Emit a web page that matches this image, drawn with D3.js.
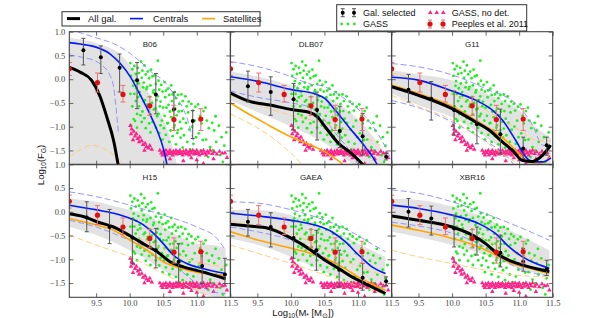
<!DOCTYPE html>
<html><head><meta charset="utf-8">
<script src="https://cdn.jsdelivr.net/npm/d3@7"></script>
<style>body{margin:0;background:#fff} svg{display:block}</style>
</head><body><svg id="c" width="598" height="318"></svg>
<script>
// ---------------- DATA ----------------
const modelNames = ["B06","DLB07","G11","H15","GAEA","XBR16"];
const xTicks = [9.5,10.0,10.5,11.0,11.5];
const yTicks = [1.0,0.5,0.0,-0.5,-1.0,-1.5];

// B06
const b06All = [[9.1,0.25],[9.26,0.15],[9.43,-0.02],[9.56,-0.37],[9.66,-0.8],[9.76,-1.29],[9.84,-1.9]];
const b06Cen = [[9.1,0.77],[9.26,0.74],[9.51,0.67],[9.71,0.53],[9.86,0.33],[10.01,0.05],[10.16,-0.34],[10.31,-0.76],[10.41,-1.08],[10.51,-1.5],[10.57,-1.9]];
const b06Sat = [];
const b06CenHi = [[9.1,1.05],[9.3,0.96],[9.55,0.85],[9.76,0.75],[10.0,0.55],[10.16,0.37],[10.35,0.12],[10.5,-0.02],[10.65,-0.3],[10.85,-0.8],[10.95,-1.3]];
const b06CenLo = [[9.1,0.51],[9.3,0.46],[9.46,0.4],[9.6,0.28],[9.7,0.1],[9.76,-0.16],[9.8,-0.65],[9.83,-1.1]];
const b06SatHi = [[9.1,-1.64],[9.25,-1.5],[9.43,-1.39],[9.55,-1.42],[9.66,-1.5],[9.86,-1.71],[9.95,-1.85]];
const b06SatLo = [];
const b06Band = [[9.1,-3,0.87],[9.5,-3,0.76],[9.9,-3,0.47],[10.15,-3,0.0],[10.4,-3,-0.58],[10.6,-3,-1.22],[10.72,-3,-1.9]];
const b06Sel = [[9.31,0.61,0.86,0.30],[9.57,0.46,0.70,0.12],[9.85,0.24,0.53,-0.27],[10.11,-0.02,0.35,-0.62],[10.39,-0.32,0.12,-0.73],[10.66,-0.63,-0.27,-1.08],[10.94,-0.88,-0.66,-1.25]];

// DLB07
const dlbAll = [[9.1,-0.29],[9.37,-0.46],[9.71,-0.55],[10.01,-0.64],[10.26,-0.69],[10.39,-0.79],[10.51,-1.0],[10.71,-1.35],[10.91,-1.57],[11.06,-1.78],[11.15,-1.9]];
const dlbCen = [[9.1,0.05],[9.52,-0.05],[10.01,-0.22],[10.36,-0.31],[10.51,-0.41],[10.66,-0.65],[10.86,-1.0],[11.11,-1.43],[11.28,-1.78],[11.32,-1.9]];
const dlbSat = [[9.1,-0.5],[9.32,-0.69],[9.62,-0.93],[10.01,-1.22],[10.31,-1.39],[10.51,-1.53],[10.66,-1.67],[10.76,-1.78],[10.82,-1.9]];
const dlbCenHi = [[9.1,0.37],[9.52,0.26],[10.01,0.05],[10.26,-0.09],[10.51,-0.16],[10.76,-0.37],[11.11,-0.79],[11.41,-1.43],[11.5,-1.7]];
const dlbCenLo = [[9.1,-0.25],[9.5,-0.38],[10.0,-0.5],[10.3,-0.6],[10.5,-0.85],[10.7,-1.2],[10.9,-1.55],[11.02,-1.85]];
const dlbSatHi = [[9.1,-0.34],[9.52,-0.55],[10.01,-0.76],[10.51,-0.93],[11.11,-1.22],[11.4,-1.45]];
const dlbSatLo = [[9.1,-0.73],[9.77,-1.28],[10.01,-1.57],[10.2,-1.85]];
const dlbBand = [[9.1,-0.45,0.16],[9.52,-0.7,0.05],[10.01,-1.0,-0.13],[10.51,-1.35,-0.37],[10.8,-1.65,-0.6],[11.01,-1.9,-0.86],[11.26,-2.2,-1.28],[11.4,-2.4,-1.6]];
const dlbSel = [[9.36,-0.15,0.17,-0.48],[9.7,-0.27,0.05,-0.76],[10.04,-0.42,-0.09,-1.07],[10.39,-0.65,-0.27,-1.28],[10.73,-1.09,-0.57,-1.44],[11.07,-1.2,-0.72,-1.6],[11.42,-1.63,-1.56,-1.7]];

// G11
const g11All = [[9.1,-0.16],[9.5,-0.34],[10.0,-0.62],[10.35,-0.9],[10.55,-1.07],[10.75,-1.32],[10.9,-1.5],[11.05,-1.71],[11.2,-1.73],[11.35,-1.6],[11.47,-1.39]];
const g11Cen = [[9.1,0.04],[9.5,-0.02],[10.0,-0.25],[10.35,-0.44],[10.6,-0.65],[10.75,-0.86],[10.95,-1.29],[11.1,-1.64],[11.2,-1.74],[11.35,-1.74],[11.47,-1.66]];
const g11Sat = [[9.1,-0.12],[9.5,-0.3],[10.0,-0.57],[10.35,-0.86],[10.6,-1.08],[10.8,-1.29],[11.0,-1.57],[11.15,-1.75],[11.3,-1.77],[11.47,-1.64]];
const g11CenHi = [[9.1,0.33],[9.5,0.26],[10.0,0.09],[10.5,-0.2],[11.0,-0.58],[11.2,-0.97],[11.35,-1.39],[11.47,-1.4]];
const g11CenLo = [[9.1,-0.45],[9.5,-0.6],[10.0,-0.9],[10.5,-1.3],[10.8,-1.6],[10.95,-1.85]];
const g11SatHi = [[9.1,0.13],[9.5,-0.02],[10.0,-0.3],[10.5,-0.65],[11.0,-1.07],[11.25,-1.28],[11.47,-1.3]];
const g11SatLo = [[9.1,-0.34],[9.5,-0.58],[10.0,-0.86],[10.4,-1.22],[10.75,-1.57],[11.0,-1.8]];
const g11Band = [[9.1,-0.3,0.19],[9.5,-0.55,0.1],[10.0,-0.8,-0.02],[10.5,-1.22,-0.3],[11.0,-1.71,-0.65],[11.3,-1.85,-1.07],[11.47,-1.8,-1.22]];
const g11Sel = [[9.35,-0.22,0.1,-0.48],[9.69,-0.41,-0.05,-0.86],[10.03,-0.65,-0.25,-1.18],[10.37,-0.95,-0.44,-1.36],[10.72,-1.16,-0.63,-1.56],[11.06,-1.46,-1.22,-1.67],[11.41,-1.39,-1.22,-1.6]];

// H15
const h15All = [[9.1,-0.04],[9.31,-0.1],[9.51,-0.21],[9.76,-0.32],[10.01,-0.51],[10.26,-0.72],[10.41,-0.84],[10.6,-1.05],[10.8,-1.16],[11.1,-1.27],[11.43,-1.41]];
const h15Cen = [[9.1,0.14],[9.51,0.04],[9.76,-0.03],[10.01,-0.14],[10.21,-0.28],[10.36,-0.46],[10.5,-0.67],[10.65,-0.91],[10.85,-1.09],[11.1,-1.2],[11.43,-1.3]];
const h15Sat = [[9.1,-0.14],[9.51,-0.28],[9.76,-0.39],[10.01,-0.6],[10.26,-0.81],[10.5,-1.05],[10.7,-1.16],[11.0,-1.27],[11.43,-1.34]];
const h15CenHi = [[9.1,0.42],[9.5,0.32],[10.0,0.14],[10.5,-0.07],[11.0,-0.32],[11.3,-0.56],[11.43,-0.81]];
const h15CenLo = [[9.1,-0.18],[9.5,-0.32],[10.0,-0.6],[10.4,-0.84],[10.7,-1.16],[11.0,-1.51],[11.25,-1.69],[11.43,-1.72]];
const h15SatHi = [[9.1,-0.05],[9.5,-0.2],[10.0,-0.49],[10.5,-0.77],[11.0,-1.05],[11.43,-1.16]];
const h15SatLo = [[9.1,-0.49],[9.5,-0.7],[10.0,-0.95],[10.5,-1.3],[10.9,-1.58],[11.2,-1.79]];
const h15Band = [[9.1,-0.32,0.28],[9.5,-0.49,0.21],[10.0,-0.81,0.04],[10.25,-1.0,-0.03],[10.5,-1.23,-0.32],[10.75,-1.44,-0.53],[11.0,-1.69,-0.67],[11.25,-1.79,-0.7],[11.43,-1.85,-0.77]];
const h15Sel = [[9.36,-0.12,0.21,-0.42],[9.7,-0.32,0.05,-0.67],[10.04,-0.54,-0.16,-1.09],[10.39,-0.81,-0.35,-1.18],[10.73,-1.05,-0.67,-1.48],[11.08,-1.14,-0.84,-1.51],[11.42,-1.32,-0.98,-1.51]];

// GAEA
const gaeaAll = [[9.1,-0.26],[9.37,-0.3],[9.67,-0.35],[10.01,-0.56],[10.26,-0.77],[10.51,-1.02],[10.71,-1.19],[10.91,-1.37],[11.16,-1.55],[11.41,-1.72]];
const gaeaCen = [[9.1,-0.03],[9.52,-0.09],[10.01,-0.18],[10.36,-0.28],[10.61,-0.42],[10.81,-0.63],[11.01,-0.91],[11.21,-1.16],[11.41,-1.3]];
const gaeaSat = [[9.1,-0.42],[9.52,-0.6],[10.01,-0.77],[10.51,-0.98],[10.8,-1.19],[11.0,-1.37],[11.25,-1.55],[11.41,-1.65]];
const gaeaCenHi = [[9.1,0.21],[9.52,0.18],[10.01,0.04],[10.51,-0.18],[10.9,-0.42],[11.2,-0.67],[11.41,-0.84]];
const gaeaCenLo = [[9.1,-0.32],[9.5,-0.42],[10.0,-0.6],[10.5,-0.95],[10.8,-1.25],[11.1,-1.5],[11.41,-1.65]];
const gaeaSatHi = [[9.1,-0.2],[9.5,-0.3],[10.0,-0.45],[10.5,-0.8],[11.0,-1.15],[11.41,-1.35]];
const gaeaSatLo = [[9.1,-0.7],[9.52,-0.88],[10.01,-1.09],[10.51,-1.33],[10.9,-1.51],[11.35,-1.72]];
const gaeaBand = [[9.1,-0.56,0.04],[9.52,-0.7,0.04],[10.01,-0.95,-0.07],[10.51,-1.27,-0.32],[11.01,-1.55,-0.67],[11.41,-1.72,-0.95]];
const gaeaSel = [[9.36,-0.21,0.05,-0.51],[9.7,-0.32,-0.02,-0.74],[10.04,-0.55,-0.21,-0.98],[10.38,-0.81,-0.39,-1.23],[10.72,-1.22,-0.81,-1.58],[11.07,-1.39,-1.09,-1.65],[11.42,-1.46,-1.37,-1.55]];

// XBR16
const xbrAll = [[9.1,-0.09],[9.5,-0.18],[10.0,-0.32],[10.3,-0.49],[10.5,-0.67],[10.7,-0.91],[10.9,-1.05],[11.15,-1.16],[11.45,-1.26]];
const xbrCen = [[9.1,0.14],[9.5,0.07],[10.0,-0.07],[10.4,-0.25],[10.65,-0.46],[10.85,-0.74],[11.05,-0.95],[11.25,-1.09],[11.45,-1.19]];
const xbrSat = [[9.1,-0.28],[9.5,-0.39],[10.0,-0.56],[10.4,-0.74],[10.65,-0.91],[10.9,-1.09],[11.15,-1.19],[11.45,-1.3]];
const xbrCenHi = [[9.1,0.46],[9.5,0.39],[10.0,0.21],[10.5,-0.04],[11.0,-0.32],[11.45,-0.6]];
const xbrCenLo = [[9.1,-0.22],[9.5,-0.3],[10.0,-0.45],[10.5,-0.75],[10.8,-1.05],[11.1,-1.25],[11.45,-1.35]];
const xbrSatHi = [[9.1,-0.1],[9.5,-0.2],[10.0,-0.35],[10.5,-0.6],[11.0,-0.9],[11.45,-1.05]];
const xbrSatLo = [[9.1,-0.81],[9.5,-0.95],[10.0,-1.09],[10.5,-1.23],[11.0,-1.34],[11.45,-1.37]];
const xbrBand = [[9.1,-0.42,0.28],[9.5,-0.53,0.25],[10.0,-0.7,0.11],[10.5,-0.91,-0.14],[11.0,-1.19,-0.49],[11.45,-1.37,-0.81]];
const xbrSel = [[9.35,0.0,0.28,-0.32],[9.69,-0.14,0.12,-0.49],[10.03,-0.35,-0.07,-0.74],[10.37,-0.56,-0.32,-0.91],[10.72,-0.86,-0.49,-1.16],[11.06,-1.05,-0.77,-1.25],[11.41,-1.21,-1.02,-1.34]];

// Peeples et al. 2011: [x, y, yHigh, yLow]
const peeples = [[9.1,0.22,0.35,0.08],[9.52,-0.07,0.13,-0.27],[9.9,-0.32,-0.13,-0.48],[10.3,-0.56,-0.37,-0.76],[10.66,-0.85,-0.55,-1.08],[11.06,-0.84,-0.62,-1.08]];

// GASS detections
const gass = [
[10.01,0.34],[10.04,0.21],[10.02,0.07],[10.05,-0.14],[10.01,-0.31],[10.04,-0.57],[10.06,-0.84],[10.02,-0.97],
[10.07,0.28],[10.09,0.11],[10.06,-0.04],[10.1,-0.19],[10.07,-0.31],[10.09,-0.46],[10.11,-0.73],[10.08,-0.88],
[10.12,0.24],[10.14,0.13],[10.13,-0.09],[10.15,-0.27],[10.12,-0.38],[10.14,-0.57],[10.16,-0.76],[10.11,-1.02],
[10.17,0.37],[10.19,0.18],[10.18,0.03],[10.2,-0.17],[10.16,-0.35],[10.21,-0.47],[10.19,-0.68],[10.18,-0.9],
[10.22,0.29],[10.24,0.1],[10.21,-0.07],[10.25,-0.21],[10.23,-0.44],[10.26,-0.58],[10.22,-0.82],[10.24,-1.03],
[10.27,0.16],[10.29,0.02],[10.26,-0.16],[10.3,-0.37],[10.27,-0.53],[10.31,-0.74],[10.29,-0.93],
[10.32,0.2],[10.34,0.06],[10.31,-0.13],[10.35,-0.28],[10.33,-0.5],[10.36,-0.64],[10.34,-0.9],[10.31,-1.12],
[10.37,0.08],[10.39,-0.1],[10.36,-0.23],[10.4,-0.44],[10.38,-0.62],[10.41,-0.78],[10.39,-1.02],
[10.42,0.39],[10.43,-0.03],[10.44,-0.22],[10.42,-0.36],[10.45,-0.57],[10.43,-0.73],[10.46,-0.97],[10.44,-1.13],
[10.47,-0.12],[10.49,-0.26],[10.46,-0.47],[10.5,-0.6],[10.48,-0.87],[10.51,-1.03],[10.49,-1.27],
[10.52,-0.06],[10.54,-0.24],[10.53,-0.38],[10.55,-0.6],[10.52,-0.77],[10.56,-0.93],[10.54,-1.17],
[10.57,-0.2],[10.59,-0.33],[10.58,-0.54],[10.6,-0.68],[10.57,-0.92],[10.61,-1.08],[10.59,-1.32],
[10.62,-0.13],[10.64,-0.32],[10.63,-0.46],[10.65,-0.67],[10.62,-0.8],[10.66,-1.02],[10.64,-1.2],
[10.67,-0.27],[10.69,-0.4],[10.68,-0.62],[10.7,-0.76],[10.67,-0.97],[10.71,-1.13],[10.69,-1.37],
[10.72,-0.33],[10.74,-0.52],[10.73,-0.68],[10.75,-0.9],[10.72,-1.07],[10.76,-1.23],
[10.77,-0.32],[10.79,-0.46],[10.78,-0.67],[10.8,-0.83],[10.77,-1.04],[10.81,-1.18],[10.79,-1.44],
[10.83,-0.36],[10.85,-0.57],[10.87,-0.7],[10.84,-0.92],[10.89,-1.06],[10.86,-1.32],[10.88,-0.47],[10.9,-1.48],
[10.92,-0.52],[10.94,-0.66],[10.97,-0.87],[10.93,-1.0],[10.99,-1.22],[10.95,-1.36],[10.98,-0.58],[11.0,-1.57],
[11.02,-0.53],[11.05,-0.77],[11.07,-0.93],[11.03,-1.14],[11.09,-1.28],[11.06,-1.5],[11.1,-0.67],
[11.13,-0.6],[11.15,-0.87],[11.18,-1.03],[11.14,-1.27],[11.2,-1.43],[11.17,-1.64],
[11.23,-0.92],[11.26,-1.08],[11.29,-1.32],[11.24,-1.5],[11.28,-0.78],
[11.33,-0.98],[11.37,-1.22],[11.41,-1.4],[11.35,-1.6],[11.44,-1.12],[11.39,-1.74]
];
// GASS non-detections
const gassNoDet = [
[10.01,-0.98],[10.03,-1.05],[10.02,-1.15],[10.06,-1.1],[10.08,-1.2],[10.1,-1.15],[10.12,-1.25],[10.15,-1.22],[10.14,-1.32],[10.18,-1.3],[10.2,-1.38],[10.23,-1.35],[10.25,-1.42],[10.28,-1.45],[10.3,-1.4],[10.33,-1.48],[10.05,-1.28],[10.22,-1.5],
[10.45,-1.5],[10.47,-1.56],[10.49,-1.6],[10.5,-1.52],[10.52,-1.55],[10.54,-1.5],[10.55,-1.6],[10.57,-1.54],[10.59,-1.57],[10.6,-1.5],[10.62,-1.55],[10.64,-1.6],[10.65,-1.52],[10.67,-1.56],[10.69,-1.5],[10.7,-1.58],[10.72,-1.53],[10.74,-1.57],[10.75,-1.5],[10.77,-1.55],[10.79,-1.6],[10.8,-1.52],[10.82,-1.56],[10.84,-1.5],[10.85,-1.58],[10.87,-1.54],[10.89,-1.6],[10.9,-1.51],[10.92,-1.56],[10.94,-1.5],[10.96,-1.58],[10.97,-1.53],[10.99,-1.57],[11.0,-1.5],[11.02,-1.55],[11.04,-1.6],[11.06,-1.52],[11.08,-1.57],[11.1,-1.5],[11.12,-1.55],[11.14,-1.6],[11.16,-1.52],[11.18,-1.56],[11.2,-1.5],[11.23,-1.57],[11.26,-1.53],[11.3,-1.58],[11.34,-1.52],[11.38,-1.56],[11.42,-1.55],
[10.6,-1.68],[10.8,-1.72],[11.0,-1.7],[11.1,-1.78],[11.25,-1.68],[11.45,-1.65],[10.92,-1.66]
];

// ---------------- TABLE ----------------
const models = [
 {name:"B06", all:b06All, cen:b06Cen, sat:b06Sat, cenHi:b06CenHi, cenLo:b06CenLo, satHi:b06SatHi, satLo:b06SatLo, band:b06Band, sel:b06Sel},
 {name:"DLB07", all:dlbAll, cen:dlbCen, sat:dlbSat, cenHi:dlbCenHi, cenLo:dlbCenLo, satHi:dlbSatHi, satLo:dlbSatLo, band:dlbBand, sel:dlbSel},
 {name:"G11", all:g11All, cen:g11Cen, sat:g11Sat, cenHi:g11CenHi, cenLo:g11CenLo, satHi:g11SatHi, satLo:g11SatLo, band:g11Band, sel:g11Sel},
 {name:"H15", all:h15All, cen:h15Cen, sat:h15Sat, cenHi:h15CenHi, cenLo:h15CenLo, satHi:h15SatHi, satLo:h15SatLo, band:h15Band, sel:h15Sel},
 {name:"GAEA", all:gaeaAll, cen:gaeaCen, sat:gaeaSat, cenHi:gaeaCenHi, cenLo:gaeaCenLo, satHi:gaeaSatHi, satLo:gaeaSatLo, band:gaeaBand, sel:gaeaSel},
 {name:"XBR16", all:xbrAll, cen:xbrCen, sat:xbrSat, cenHi:xbrCenHi, cenLo:xbrCenLo, satHi:xbrSatHi, satLo:xbrSatLo, band:xbrBand, sel:xbrSel}
];

// ---------------- DRAW ----------------
const svg = d3.select("#c");
const W = 161, H = 133;
const lefts = [69.3, 230.5, 391.7], tops = [31.7, 164.3];
const x = d3.scaleLinear().domain([9.1, 11.5]).range([0, W]);
const y = d3.scaleLinear().domain([-1.8, 1.0]).range([H, 0]);
const FRAME = "#444";
const fmt = d => d3.format(".1f")(d).replace("-", "\u2212");

const line = d3.line().x(d => x(d[0])).y(d => y(d[1])).curve(d3.curveMonotoneX);
const area = d3.area().x(d => x(d[0])).y0(d => y(d[1])).y1(d => y(d[2])).curve(d3.curveMonotoneX);
const defs = svg.append("defs");

models.forEach((m, i) => {
  const col = i % 3, row = Math.floor(i / 3);
  const g = svg.append("g").attr("transform", `translate(${lefts[col]},${tops[row]})`);
  defs.append("clipPath").attr("id", "clip" + i).append("rect").attr("width", W).attr("height", H);
  const inner = g.append("g").attr("clip-path", `url(#clip${i})`);

  inner.append("path").datum(m.band).attr("d", area).attr("fill", "#e2e2e2");

  inner.selectAll(".gass").data(gass).join("circle")
    .attr("cx", d => x(d[0])).attr("cy", d => y(d[1])).attr("r", 1.4).attr("fill", "#22ee22");
  inner.selectAll(".nodet").data(gassNoDet).join("path")
    .attr("transform", d => `translate(${x(d[0])},${y(d[1])})`)
    .attr("d", d3.symbol(d3.symbolTriangle, 9)).attr("fill", "#ff2288");

  const dashed = [[m.cenHi, "#8a8aff"], [m.cenLo, "#8a8aff"], [m.satHi, "#ffc870"], [m.satLo, "#ffc870"]];
  dashed.forEach(([arr, c]) => {
    if (arr.length) inner.append("path").datum(arr).attr("d", line).attr("fill", "none")
      .attr("stroke", c).attr("stroke-width", 0.9).attr("stroke-dasharray", "6,3");
  });
  if (m.sat.length) inner.append("path").datum(m.sat).attr("d", line).attr("fill", "none").attr("stroke", "#ffa500").attr("stroke-width", 1.6);
  inner.append("path").datum(m.cen).attr("d", line).attr("fill", "none").attr("stroke", "#0018ff").attr("stroke-width", 1.6);
  inner.append("path").datum(m.all).attr("d", line).attr("fill", "none").attr("stroke", "#000").attr("stroke-width", 3);

  function errbars(data, barCol, dotCol, r, cap) {
    const eg = inner.append("g");
    data.forEach(d => {
      const cx = x(d[0]);
      eg.append("line").attr("x1", cx).attr("x2", cx).attr("y1", y(d[2])).attr("y2", y(d[3])).attr("stroke", barCol).attr("stroke-width", 1);
      [d[2], d[3]].forEach(v => eg.append("line").attr("x1", cx - cap).attr("x2", cx + cap).attr("y1", y(v)).attr("y2", y(v)).attr("stroke", barCol).attr("stroke-width", 1));
      eg.append("circle").attr("cx", cx).attr("cy", y(d[1])).attr("r", r).attr("fill", dotCol);
    });
  }
  errbars(m.sel, "#555", "#000", 2, 2);
  errbars(peeples, "#f07070", "#e01010", 2.6, 2.5);

  // axes (inward ticks on all sides)
  const ax = (a) => a.tickSizeInner(-4).tickSizeOuter(0);
  g.append("g").attr("transform", `translate(0,${H})`)
    .call(ax(d3.axisBottom(x).tickValues(xTicks).tickPadding(2.5).tickFormat(row === 1 ? fmt : "")));
  g.append("g").call(ax(d3.axisTop(x).tickValues(xTicks).tickFormat("")));
  g.append("g").call(ax(d3.axisLeft(y).tickValues(yTicks).tickPadding(4).tickFormat(col === 0 ? fmt : "")));
  g.append("g").attr("transform", `translate(${W},0)`).call(ax(d3.axisRight(y).tickValues(yTicks).tickFormat("")));
  g.selectAll(".domain").remove();
  g.selectAll(".tick line").attr("stroke", FRAME).attr("stroke-width", 0.8);
  g.selectAll(".tick text").attr("font-family", "Liberation Serif, DejaVu Serif, serif").attr("font-size", 8.5).attr("fill", "#444");

  g.append("rect").attr("width", W).attr("height", H).attr("fill", "none").attr("stroke", FRAME).attr("stroke-width", 1.1);
  g.append("text").attr("x", W / 2).attr("y", 15.3).attr("text-anchor", "middle")
    .attr("font-family", "Liberation Sans, Arial, sans-serif").attr("font-size", 8).attr("fill", "#222").text(m.name);
});

// axis labels
const lab = svg.append("text").attr("x", 303).attr("y", 316).attr("text-anchor", "middle")
  .attr("font-family", "Liberation Sans, Arial, sans-serif").attr("font-size", 9.5).attr("fill", "#111");
lab.append("tspan").text("Log");
lab.append("tspan").attr("font-size", 6.5).attr("dy", 2).text("10");
lab.append("tspan").attr("dy", -2).text("(M");
lab.append("tspan").attr("font-size", 6.5).attr("dy", 2).text("*");
lab.append("tspan").attr("dy", -2).text(" [M");
lab.append("tspan").attr("font-size", 6.5).attr("dy", 2).text("\u2299");
lab.append("tspan").attr("dy", -2).text("])");

const ylab = svg.append("text").attr("transform", "translate(44,165) rotate(-90)").attr("text-anchor", "middle")
  .attr("font-family", "Liberation Sans, Arial, sans-serif").attr("font-size", 9.5).attr("fill", "#111");
ylab.append("tspan").text("Log");
ylab.append("tspan").attr("font-size", 6.5).attr("dy", 2).text("10");
ylab.append("tspan").attr("dy", -2).text("(F");
ylab.append("tspan").attr("font-size", 6.5).attr("dy", 2).text("G");
ylab.append("tspan").attr("dy", -2).text(")");

// Legend 1
const LF = "Liberation Sans, Arial, sans-serif";
const l1 = svg.append("g");
l1.append("rect").attr("x", 62).attr("y", 11.7).attr("width", 198).attr("height", 14.3).attr("fill", "#fff").attr("stroke", "#333").attr("stroke-width", 1);
[["All gal.", "#000", 3, 67, 88], ["Centrals", "#0018ff", 1.6, 130, 153], ["Satellites", "#ffa500", 1.6, 202, 223]].forEach(([t, c, w, lx, tx]) => {
  l1.append("line").attr("x1", lx).attr("x2", lx + 13).attr("y1", 18.6).attr("y2", 18.6).attr("stroke", c).attr("stroke-width", w);
  l1.append("text").attr("x", tx).attr("y", 22).attr("font-family", LF).attr("font-size", 9.5).attr("fill", "#111").text(t);
});

// Legend 2
const l2 = svg.append("g");
l2.append("rect").attr("x", 336.7).attr("y", 4.7).attr("width", 190).attr("height", 26.3).attr("fill", "#fff").attr("stroke", "#333").attr("stroke-width", 1);
function legErr(cx, cy, barCol, dotCol, r) {
  l2.append("line").attr("x1", cx).attr("x2", cx).attr("y1", cy - 4).attr("y2", cy + 4).attr("stroke", barCol);
  [cy - 4, cy + 4].forEach(v => l2.append("line").attr("x1", cx - 2).attr("x2", cx + 2).attr("y1", v).attr("y2", v).attr("stroke", barCol));
  l2.append("circle").attr("cx", cx).attr("cy", cy).attr("r", r).attr("fill", dotCol);
}
legErr(342.7, 12.7, "#555", "#000", 2); legErr(354, 12.7, "#555", "#000", 2);
[341.7, 348, 354.3].forEach(cx => l2.append("circle").attr("cx", cx).attr("cy", 24).attr("r", 1.4).attr("fill", "#22ee22"));
[430.3, 436.7, 443.3].forEach(cx => l2.append("path").attr("transform", `translate(${cx},12.7)`).attr("d", d3.symbol(d3.symbolTriangle, 9)).attr("fill", "#ff2288"));
legErr(430, 24, "#f07070", "#e01010", 2.6); legErr(443, 24, "#f07070", "#e01010", 2.6);
[["Gal. selected", 363, 16], ["GASS", 363, 27.3], ["GASS, no det.", 451.7, 16], ["Peeples et al. 2011", 451.7, 27.3]].forEach(([t, tx, ty]) => {
  l2.append("text").attr("x", tx).attr("y", ty).attr("font-family", LF).attr("font-size", 9).attr("fill", "#111").text(t);
});
</script>
</body></html>
